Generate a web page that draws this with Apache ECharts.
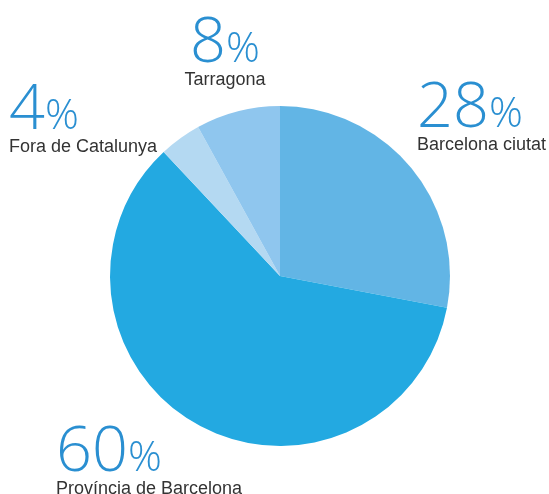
<!DOCTYPE html>
<html><head><meta charset="utf-8">
<script src="https://cdn.jsdelivr.net/npm/echarts@6/dist/echarts.min.js"></script>
<style>html,body{margin:0;padding:0;background:#fff}#c{width:549px;height:494px}</style>
</head><body><div id="c"></div>
<script>
const categories = ['Barcelona ciutat', 'Província de Barcelona', 'Fora de Catalunya', 'Tarragona'];
const values = [28, 60, 4, 8];
const colors = ['#62b5e5', '#23a9e1', '#b4d9f2', '#8fc6ee'];
const labelPos = [
  {x: 417, y: 95, align: 'left'},
  {x: 56, y: 439, align: 'left'},
  {x: 9, y: 97, align: 'left'},
  {x: 225, y: 30, align: 'center'}
];
const chart = echarts.init(document.getElementById('c'));
chart.setOption({
  animation: false,
  series: [{
    type: 'pie',
    center: [280, 276],
    radius: 170,
    startAngle: 90,
    clockwise: true,
    silent: true,
    data: categories.map((n, i) => ({name: n, value: values[i], itemStyle: {color: colors[i]}})),
    labelLine: {show: false},
    label: {
      show: true,
      overflow: 'none',
      formatter: p => '{num|' + p.value + '}{pct|%}\n{name|' + p.name + '}',
      rich: {
        num: {fontFamily: 'Open Sans', fontWeight: 300, fontSize: 63, lineHeight: 46, color: '#2a8fd1', verticalAlign: 'bottom'},
        pct: {fontFamily: 'Open Sans', fontWeight: 300, fontSize: 42, lineHeight: 46, color: '#2a8fd1', verticalAlign: 'bottom', padding: [0, 0, 5, 0]},
        name: {fontFamily: 'Liberation Sans', fontSize: 18, lineHeight: 8, color: '#333333'}
      }
    },
    labelLayout: p => {
      const lp = labelPos[p.dataIndex];
      return {x: lp.x, y: lp.y, align: lp.align, verticalAlign: 'top'};
    }
  }]
});
</script></body></html>
